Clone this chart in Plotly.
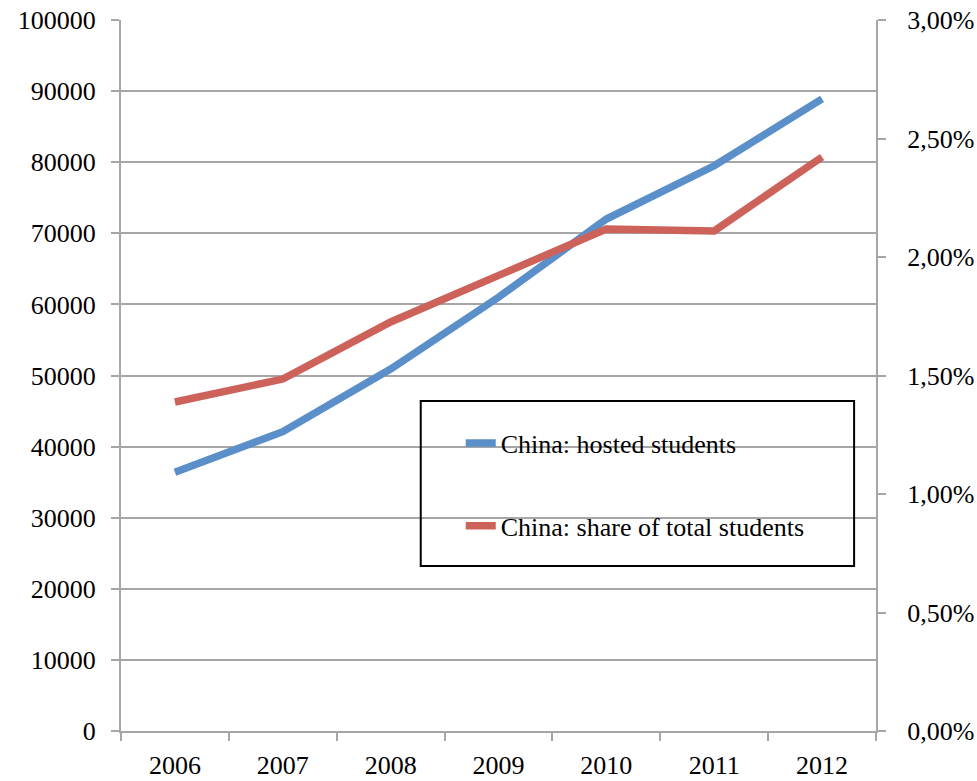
import plotly.graph_objects as go

years = ["2006", "2007", "2008", "2009", "2010", "2011", "2012"]
hosted_students = [36400, 42100, 50900, 61000, 72000, 79500, 88900]
share_of_total = [0.01388, 0.01485, 0.01726, 0.01924, 0.02118, 0.02110, 0.02422]

blue = "#5a8fca"
red = "#cd625b"
axis_gray = "#a6a6a6"
font_family = "Liberation Serif"

fig = go.Figure()
fig.add_trace(go.Scatter(
    x=years, y=hosted_students, name="China: hosted students",
    mode="lines", line=dict(color=blue, width=7.5), legendgroup="a",
))
fig.add_trace(go.Scatter(
    x=years, y=share_of_total, name="China: share of total students",
    mode="lines", line=dict(color=red, width=7.5), yaxis="y2", legendgroup="b",
))

fig.update_layout(
    width=977, height=781,
    margin=dict(l=121, r=101, t=20, b=50, autoexpand=False),
    paper_bgcolor="white", plot_bgcolor="white",
    separators=",.",
    font=dict(family=font_family, size=26, color="black"),
    showlegend=True,
    legend=dict(
        x=0.450, y=0.438, xanchor="left", yanchor="top",
        bgcolor="rgba(0,0,0,0)", borderwidth=0,
        tracegroupgap=46,
        font=dict(family=font_family, size=26, color="black"),
    ),
    xaxis=dict(
        type="category", tickson="boundaries", range=[-0.5, 6.5],
        showline=True, linecolor=axis_gray, linewidth=2,
        ticks="outside", ticklen=8, tickcolor=axis_gray, tickwidth=2,
        showgrid=False, zeroline=False, ticklabelstandoff=10, automargin=False,
    ),
    yaxis=dict(
        range=[0, 100000], dtick=10000, tickformat="d",
        showline=True, linecolor=axis_gray, linewidth=2,
        ticks="outside", ticklen=8, tickcolor=axis_gray, tickwidth=2,
        showgrid=True, gridcolor=axis_gray, gridwidth=2,
        zeroline=False, ticklabelstandoff=10, automargin=False,
    ),
    yaxis2=dict(
        range=[0, 0.03], dtick=0.005, tickformat=".2%",
        overlaying="y", side="right",
        showline=True, linecolor=axis_gray, linewidth=2,
        ticks="outside", ticklen=8, tickcolor=axis_gray, tickwidth=2,
        showgrid=False, zeroline=False, ticklabelstandoff=16, automargin=False,
    ),
    shapes=[dict(
        type="rect", xref="paper", yref="paper",
        x0=0.397, x1=0.971, y0=0.232, y1=0.464,
        line=dict(color="black", width=2), fillcolor="rgba(0,0,0,0)",
    )],
)

fig.write_html("out.html")
